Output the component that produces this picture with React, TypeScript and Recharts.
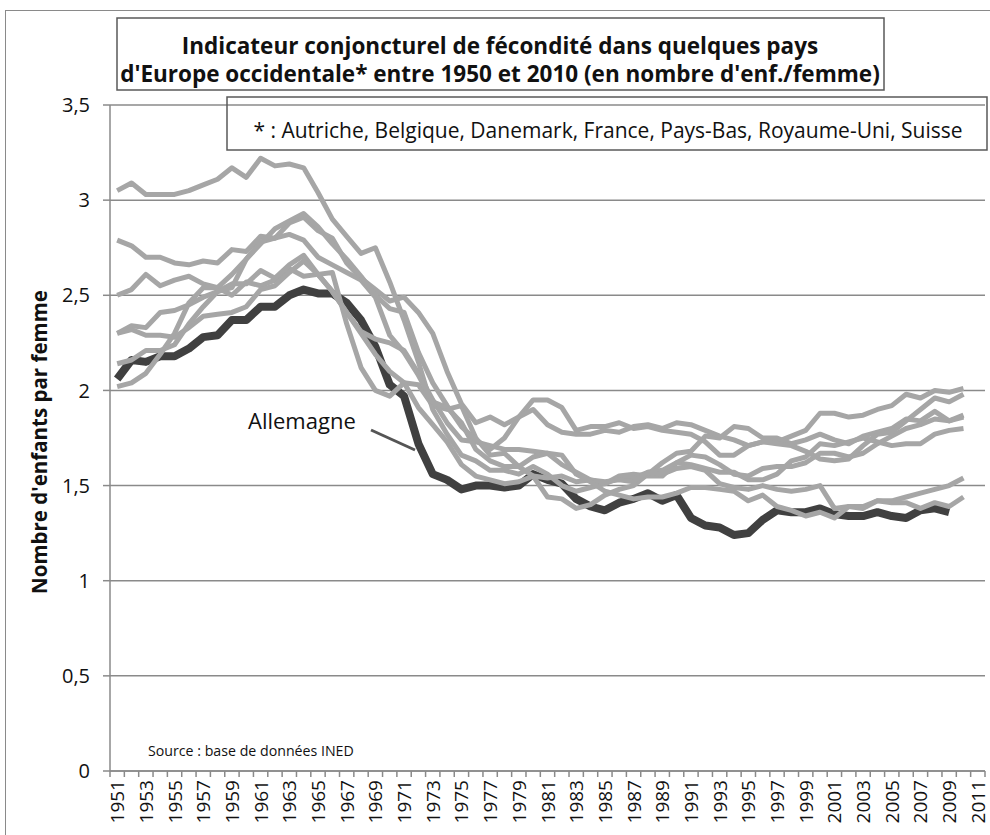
import React from 'react';
import { LineChart, Line, XAxis, YAxis, CartesianGrid } from 'recharts';

const years = [
  1951, 1952, 1953, 1954, 1955, 1956, 1957, 1958, 1959, 1960,
  1961, 1962, 1963, 1964, 1965, 1966, 1967, 1968, 1969, 1970,
  1971, 1972, 1973, 1974, 1975, 1976, 1977, 1978, 1979, 1980,
  1981, 1982, 1983, 1984, 1985, 1986, 1987, 1988, 1989, 1990,
  1991, 1992, 1993, 1994, 1995, 1996, 1997, 1998, 1999, 2000,
  2001, 2002, 2003, 2004, 2005, 2006, 2007, 2008, 2009, 2010,
  2011,
];

const allemagne = [
  2.06, 2.16, 2.15, 2.18, 2.18, 2.22, 2.28, 2.29, 2.37, 2.37,
  2.44, 2.44, 2.50, 2.53, 2.51, 2.51, 2.46, 2.37, 2.23, 2.03,
  1.97, 1.72, 1.56, 1.53, 1.48, 1.50, 1.50, 1.49, 1.50, 1.56,
  1.53, 1.51, 1.43, 1.39, 1.37, 1.41, 1.43, 1.46, 1.42, 1.45,
  1.33, 1.29, 1.28, 1.24, 1.25, 1.32, 1.37, 1.36, 1.36, 1.38,
  1.35, 1.34, 1.34, 1.36, 1.34, 1.33, 1.37, 1.38, 1.36,
];

const paysBas = [
  3.05, 3.09, 3.03, 3.03, 3.03, 3.05, 3.08, 3.11, 3.17, 3.12,
  3.22, 3.18, 3.19, 3.17, 3.04, 2.90, 2.81, 2.72, 2.75, 2.57,
  2.37, 2.15, 1.90, 1.77, 1.66, 1.63, 1.58, 1.58, 1.56, 1.60,
  1.56, 1.50, 1.47, 1.49, 1.51, 1.55, 1.56, 1.55, 1.55, 1.62,
  1.61, 1.59, 1.57, 1.57, 1.53, 1.53, 1.56, 1.63, 1.65, 1.72,
  1.71, 1.73, 1.75, 1.73, 1.71, 1.72, 1.72, 1.77, 1.79, 1.80,
];

const france = [
  2.79, 2.76, 2.70, 2.70, 2.67, 2.66, 2.68, 2.67, 2.74, 2.73,
  2.81, 2.80, 2.88, 2.91, 2.84, 2.80, 2.67, 2.59, 2.53, 2.47,
  2.49, 2.41, 2.30, 2.10, 1.93, 1.83, 1.86, 1.82, 1.86, 1.95,
  1.95, 1.91, 1.79, 1.81, 1.81, 1.83, 1.80, 1.81, 1.79, 1.78,
  1.77, 1.73, 1.66, 1.66, 1.71, 1.73, 1.73, 1.76, 1.79, 1.88,
  1.88, 1.86, 1.87, 1.90, 1.92, 1.98, 1.96, 2.00, 1.99, 2.01,
];

const danemark = [
  2.50, 2.53, 2.61, 2.55, 2.58, 2.60, 2.56, 2.54, 2.50, 2.57,
  2.55, 2.58, 2.64, 2.60, 2.61, 2.62, 2.35, 2.12, 2.00, 1.97,
  2.04, 2.03, 1.92, 1.90, 1.92, 1.75, 1.66, 1.67, 1.60, 1.55,
  1.44, 1.43, 1.38, 1.40, 1.45, 1.48, 1.50, 1.56, 1.62, 1.67,
  1.68, 1.76, 1.75, 1.81, 1.80, 1.75, 1.75, 1.72, 1.74, 1.77,
  1.74, 1.72, 1.76, 1.78, 1.80, 1.85, 1.84, 1.89, 1.84, 1.87,
];

const belgique = [
  2.30, 2.34, 2.33, 2.41, 2.42, 2.45, 2.49, 2.52, 2.56, 2.56,
  2.63, 2.59, 2.66, 2.71, 2.61, 2.52, 2.41, 2.31, 2.27, 2.25,
  2.21, 2.09, 1.95, 1.83, 1.74, 1.73, 1.71, 1.69, 1.69, 1.68,
  1.67, 1.61, 1.57, 1.53, 1.51, 1.54, 1.54, 1.57, 1.58, 1.62,
  1.66, 1.65, 1.61, 1.56, 1.55, 1.59, 1.60, 1.60, 1.62, 1.67,
  1.67, 1.65, 1.67, 1.72, 1.76, 1.80, 1.82, 1.85, 1.84, 1.86,
];

const suisse = [
  2.30, 2.32, 2.29, 2.29, 2.28, 2.33, 2.39, 2.40, 2.41, 2.44,
  2.53, 2.55, 2.62, 2.68, 2.61, 2.52, 2.41, 2.30, 2.19, 2.10,
  2.04, 1.91, 1.82, 1.73, 1.61, 1.55, 1.53, 1.51, 1.52, 1.55,
  1.54, 1.55, 1.52, 1.53, 1.52, 1.53, 1.52, 1.57, 1.56, 1.59,
  1.60, 1.58, 1.51, 1.49, 1.48, 1.50, 1.48, 1.47, 1.48, 1.50,
  1.38, 1.39, 1.39, 1.42, 1.42, 1.44, 1.46, 1.48, 1.50, 1.54,
];

const autriche = [
  2.02, 2.04, 2.09, 2.19, 2.30, 2.46, 2.54, 2.54, 2.61, 2.69,
  2.78, 2.80, 2.82, 2.79, 2.70, 2.66, 2.62, 2.58, 2.49, 2.29,
  2.20, 2.08, 1.94, 1.91, 1.83, 1.69, 1.63, 1.60, 1.60, 1.65,
  1.67, 1.66, 1.56, 1.52, 1.47, 1.45, 1.43, 1.44, 1.44, 1.46,
  1.49, 1.49, 1.48, 1.47, 1.42, 1.45, 1.39, 1.37, 1.34, 1.36,
  1.33, 1.39, 1.38, 1.42, 1.41, 1.41, 1.38, 1.41, 1.39, 1.44,
];

const royaumeUni = [
  2.14, 2.16, 2.21, 2.21, 2.24, 2.35, 2.44, 2.52, 2.54, 2.69,
  2.77, 2.85, 2.89, 2.93, 2.86, 2.77, 2.69, 2.60, 2.50, 2.43,
  2.41, 2.20, 2.04, 1.92, 1.81, 1.74, 1.69, 1.75, 1.86, 1.90,
  1.82, 1.78, 1.77, 1.77, 1.79, 1.78, 1.81, 1.82, 1.80, 1.83,
  1.82, 1.79, 1.76, 1.74, 1.71, 1.73, 1.72, 1.71, 1.68, 1.64,
  1.63, 1.64, 1.71, 1.77, 1.78, 1.84, 1.90, 1.96, 1.94, 1.98,
];

const yTicks = [0, 0.5, 1, 1.5, 2, 2.5, 3, 3.5];

const lightSeries = [
  { key: 'paysBas', values: paysBas },
  { key: 'france', values: france },
  { key: 'danemark', values: danemark },
  { key: 'belgique', values: belgique },
  { key: 'suisse', values: suisse },
  { key: 'autriche', values: autriche },
  { key: 'royaumeUni', values: royaumeUni },
];

const data = years.map((year, i) => {
  const row: Record<string, number | null> = { year };
  row.allemagne = allemagne[i] ?? null;
  lightSeries.forEach((s) => {
    row[s.key] = s.values[i] ?? null;
  });
  return row;
});

const W = 990;
const H = 835;
const PLOT_LEFT = 110;
const PLOT_RIGHT = 985;
const PLOT_TOP = 105;
const X_AXIS_H = 64;
const PLOT_BOTTOM = H - X_AXIS_H;
const STEP = (PLOT_RIGHT - PLOT_LEFT) / years.length;
const FONT = "'Open Sans', sans-serif";
const AXIS_GREY = '#8a8a8a';

const XTick = (props: any) => {
  const { x, payload, index } = props;
  const half = STEP / 2;
  const showLabel = index % 2 === 0;
  return (
    <g>
      <line x1={x - half} x2={x - half} y1={PLOT_BOTTOM} y2={PLOT_BOTTOM + 6} stroke={AXIS_GREY} strokeWidth={1.5} />
      {index === years.length - 1 && (
        <line x1={x + half} x2={x + half} y1={PLOT_BOTTOM} y2={PLOT_BOTTOM + 6} stroke={AXIS_GREY} strokeWidth={1.5} />
      )}
      {showLabel && (
        <text
          transform={`translate(${x + 7},${PLOT_BOTTOM + 9}) rotate(-90)`}
          textAnchor="end"
          fontSize={19}
          fontFamily={FONT}
          fill="#111"
        >
          {payload.value}
        </text>
      )}
    </g>
  );
};

export default function App() {
  return (
    <div style={{ position: 'absolute', left: 0, top: 0, width: W, height: H, overflow: 'hidden', background: '#fff' }}>
      <div
        style={{
          position: 'absolute',
          left: 5,
          top: 10,
          width: W,
          height: H,
          border: '1.5px solid #8a8a8a',
          boxSizing: 'border-box',
        }}
      />
      <div style={{ position: 'absolute', left: 0, top: 0 }}>
        <LineChart
          width={W}
          height={H}
          data={data}
          margin={{ top: PLOT_TOP, right: W - PLOT_RIGHT, left: 0, bottom: 0 }}
        >
          <CartesianGrid vertical={false} stroke={AXIS_GREY} strokeWidth={1.5} />
          <XAxis
            dataKey="year"
            interval={0}
            height={X_AXIS_H}
            padding={{ left: STEP / 2, right: STEP / 2 }}
            tickLine={false}
            axisLine={{ stroke: AXIS_GREY, strokeWidth: 1.5 }}
            tick={<XTick />}
          />
          <YAxis
            width={PLOT_LEFT}
            domain={[0, 3.5]}
            ticks={yTicks}
            interval={0}
            tickSize={7}
            tickMargin={13}
            tickLine={{ stroke: AXIS_GREY, strokeWidth: 1.5 }}
            axisLine={{ stroke: AXIS_GREY, strokeWidth: 1.5 }}
            tick={{ fontSize: 20, fontFamily: FONT, fill: '#111' }}
            tickFormatter={(v: number) => String(v).replace('.', ',')}
          />
          <Line
            dataKey="allemagne"
            stroke="#404040"
            strokeWidth={8}
            dot={false}
            isAnimationActive={false}
            strokeLinejoin="round"
          />
          {lightSeries.map((s) => (
            <Line
              key={s.key}
              dataKey={s.key}
              stroke="#a6a6a6"
              strokeWidth={5}
              dot={false}
              isAnimationActive={false}
              strokeLinejoin="round"
            />
          ))}
        </LineChart>
      </div>
      <svg
        width={W}
        height={H}
        style={{ position: 'absolute', left: 0, top: 0, pointerEvents: 'none' }}
        fontFamily={FONT}
      >
        <rect x={117} y={18} width={767} height={72} fill="#fff" stroke="#595959" strokeWidth={1.5} />
        <text x={500} y={54} textAnchor="middle" fontSize={22.5} fontWeight="bold" fill="#111">
          Indicateur conjoncturel de fécondité dans quelques pays
        </text>
        <text x={500} y={82} textAnchor="middle" fontSize={22.5} fontWeight="bold" fill="#111">
          d'Europe occidentale* entre 1950 et 2010 (en nombre d'enf./femme)
        </text>
        <rect x={227} y={97} width={760} height={53} fill="none" stroke="#595959" strokeWidth={1.5} />
        <text x={608} y={138} textAnchor="middle" fontSize={21} fill="#111">
          * : Autriche, Belgique, Danemark, France, Pays-Bas, Royaume-Uni, Suisse
        </text>
        <text
          transform="translate(47,442) rotate(-90)"
          textAnchor="middle"
          fontSize={20.5}
          fontWeight="bold"
          fill="#111"
        >
          Nombre d'enfants par femme
        </text>
        <text x={248} y={429} fontSize={22} fill="#111">
          Allemagne
        </text>
        <line x1={371} y1={430} x2={415} y2={450} stroke="#555" strokeWidth={3} />
        <text x={148} y={756} fontSize={14.2} fill="#111">
          Source : base de données INED
        </text>
      </svg>
    </div>
  );
}
